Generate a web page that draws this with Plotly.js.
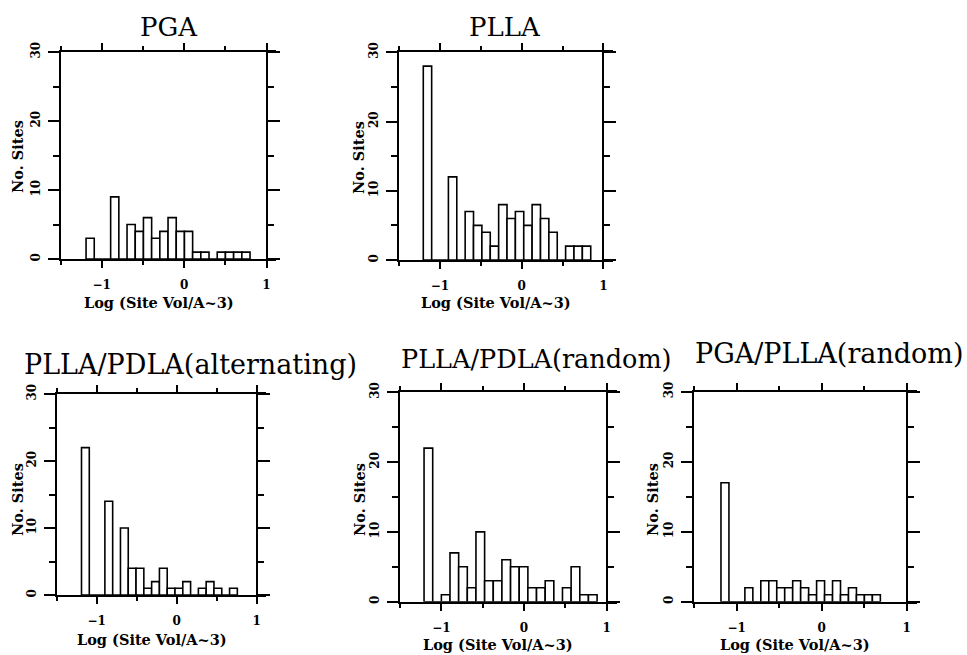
<!DOCTYPE html>
<html><head><meta charset="utf-8">
<script src="https://cdn.plot.ly/plotly-3.0.1.min.js"></script>
<style>html,body{margin:0;padding:0;background:#fff}#chart{width:967px;height:655px}</style>
</head><body><div id="chart"></div>
<script>
// ---- data ----
const panelTitles = ['PGA', 'PLLA', 'PLLA/PDLA(alternating)', 'PLLA/PDLA(random)', 'PGA/PLLA(random)'];
const xAxisLabel = 'Log (Site Vol/A~3)';
const yAxisLabel = 'No. Sites';

// counts per histogram bin (20 bins each), and the log-volume range each histogram spans
const pgaCounts      = [3, 0, 0, 9, 0, 5, 4, 6, 3, 4, 6, 4, 4, 1, 1, 0, 1, 1, 1, 1];
const pgaRange       = [-1.19, 0.80];
const pllaCounts     = [28, 0, 0, 12, 0, 7, 5, 4, 2, 8, 6, 7, 5, 8, 6, 4, 0, 2, 2, 2];
const pllaRange      = [-1.204, 0.845];
const altCounts      = [22, 0, 0, 14, 0, 10, 4, 4, 1, 2, 4, 1, 1, 2, 0, 1, 2, 1, 0, 1];
const altRange       = [-1.19, 0.758];
const randCounts     = [22, 0, 1, 7, 5, 2, 10, 3, 3, 6, 5, 5, 2, 2, 3, 0, 2, 5, 1, 1];
const randRange      = [-1.21, 0.885];
const pgaPllaCounts  = [17, 0, 0, 2, 0, 3, 3, 2, 2, 3, 2, 1, 3, 1, 3, 1, 2, 1, 1, 1];
const pgaPllaRange   = [-1.185, 0.69];

const xTickValues = [-1, 0, 1];
const yTickValues = [0, 10, 20, 30];

const countsList = [pgaCounts, pllaCounts, altCounts, randCounts, pgaPllaCounts];
const rangeList  = [pgaRange, pllaRange, altRange, randRange, pgaPllaRange];

// ---- layout geometry (pixels) ----
const W = 967, H = 655;
const XR = [-1.5, 1.12];
const frames = [
  {l: 60.5,  r: 276.4, t: 52,    b: 259,   tx: 168.5, ty: 27,  ts: 26,   yx: 18,  yy: 157, xy: 302},
  {l: 399.1, r: 613.2, t: 52.3,  b: 260,   tx: 504.7, ty: 27,  ts: 26,   yx: 358, yy: 158, xy: 302},
  {l: 56.7,  r: 266.3, t: 394,   b: 595,   tx: 190.5, ty: 364, ts: 27,   yx: 17,  yy: 500, xy: 639},
  {l: 400.1, r: 616.5, t: 392.3, b: 601.7, tx: 536,   ty: 359, ts: 25.5, yx: 359, yy: 500, xy: 644},
  {l: 694.2, r: 916.9, t: 391.7, b: 601.7, tx: 828.5, ty: 354, ts: 27,   yx: 652, yy: 500, xy: 644}
];

const serif = 'DejaVu Serif, Liberation Serif, serif';
const data = [];
const layout = {
  width: W, height: H, margin: {l: 0, r: 0, t: 0, b: 0},
  paper_bgcolor: '#fff', plot_bgcolor: '#fff', showlegend: false,
  bargap: 0, annotations: []
};

frames.forEach((f, i) => {
  const n = i + 1;
  const xa = n === 1 ? 'x' : 'x' + n;
  const ya = n === 1 ? 'y' : 'y' + n;
  const ya2 = 'y' + (n + 5);
  const counts = countsList[i];
  const [lo, hi] = rangeList[i];
  const w = (hi - lo) / counts.length;
  const centers = counts.map((_, k) => lo + (k + 0.5) * w);
  data.push({
    type: 'bar', x: centers, y: counts, width: w, xaxis: xa, yaxis: ya,
    marker: {color: '#fff', line: {color: '#000', width: 1.6}},
    hoverinfo: 'x+y'
  });
  data.push({type: 'scatter', x: [], y: [], xaxis: xa, yaxis: ya2, hoverinfo: 'skip', showlegend: false});

  const dx = [f.l / W, f.r / W];
  const dy = [1 - f.b / H, 1 - f.t / H];
  layout['xaxis' + (n === 1 ? '' : n)] = {
    domain: dx, range: XR, anchor: ya, showline: true, linewidth: 2, linecolor: '#000',
    mirror: 'ticks', ticks: 'outside', ticklen: 7, tickwidth: 2, tickcolor: '#000',
    tickmode: 'array', tickvals: xTickValues,
    minor: {tick0: 0, dtick: 0.5, ticks: 'outside', ticklen: 4, tickwidth: 2, tickcolor: '#000', showgrid: false},
    showgrid: false, zeroline: false, fixedrange: true,
    tickfont: {family: serif, size: 12, color: '#000', weight: 'bold'}, ticklabelstandoff: 7
  };
  layout['yaxis' + (n === 1 ? '' : n)] = {
    domain: dy, range: [0, 30], anchor: xa, showline: true, linewidth: 2, linecolor: '#000',
    ticks: 'outside', ticklen: 11, tickwidth: 2, tickcolor: '#000',
    tickmode: 'array', tickvals: yTickValues,
    minor: {tick0: 0, dtick: 5, ticks: 'outside', ticklen: 6, tickwidth: 2, tickcolor: '#000', showgrid: false},
    tickangle: -90, showgrid: false, zeroline: false, fixedrange: true,
    tickfont: {family: serif, size: 12, color: '#000', weight: 'bold'}, ticklabelstandoff: 3
  };
  const pos = dx[0] + (1 - XR[0]) / (XR[1] - XR[0]) * (dx[1] - dx[0]);
  layout['yaxis' + (n + 5)] = {
    overlaying: ya, anchor: 'free', position: pos, side: 'right', range: [0, 30],
    showline: true, linewidth: 2, linecolor: '#000',
    ticks: 'outside', ticklen: 12, tickwidth: 2, tickcolor: '#000',
    tickmode: 'array', tickvals: yTickValues,
    minor: {tick0: 0, dtick: 5, ticks: 'outside', ticklen: 6, tickwidth: 2, tickcolor: '#000', showgrid: false},
    showticklabels: false, showgrid: false, zeroline: false, fixedrange: true
  };

  layout.annotations.push({
    text: panelTitles[i], xref: 'paper', yref: 'paper', x: f.tx / W, y: 1 - f.ty / H,
    xanchor: 'center', yanchor: 'middle', showarrow: false,
    font: {family: serif, size: f.ts, color: '#000'}
  });
  layout.annotations.push({
    text: xAxisLabel, xref: xa, yref: 'paper', x: -0.31, y: 1 - f.xy / H,
    xanchor: 'center', yanchor: 'middle', showarrow: false,
    font: {family: serif, size: 14.5, color: '#000', weight: 'bold'}
  });
  layout.annotations.push({
    text: yAxisLabel, xref: 'paper', yref: 'paper', x: f.yx / W, y: 1 - f.yy / H,
    xanchor: 'center', yanchor: 'middle', textangle: -90, showarrow: false,
    font: {family: serif, size: 14.5, color: '#000', weight: 'bold'}
  });
});

Plotly.newPlot('chart', data, layout, {displayModeBar: false, staticPlot: true});
</script>
</body></html>
